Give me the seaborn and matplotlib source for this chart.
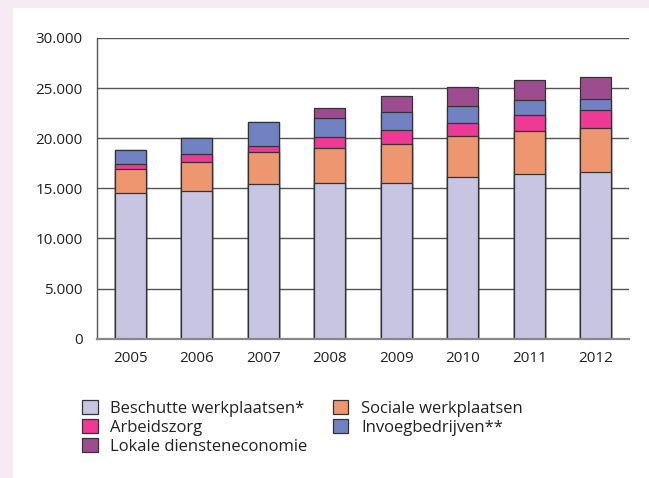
import matplotlib
matplotlib.use("Agg")
import matplotlib.pyplot as plt
import seaborn as sns
import numpy as np
import pandas as pd
from matplotlib.patches import Patch, Rectangle

sns.set_style("white")
plt.rcParams["font.family"] = ["Open Sans", "DejaVu Sans"]

# --- data ---
years = ["2005", "2006", "2007", "2008", "2009", "2010", "2011", "2012"]
beschutte = [14500, 14770, 15440, 15510, 15510, 16170, 16440, 16640]
sociale = [2400, 2900, 3160, 3490, 3950, 4060, 4290, 4390]
arbeidszorg = [530, 730, 600, 1130, 1340, 1330, 1600, 1770]
invoeg = [1370, 1600, 2400, 1930, 1800, 1640, 1470, 1100]
lokale = [0, 0, 0, 940, 1620, 1950, 1990, 2190]

series_names = ["Beschutte werkplaatsen*", "Sociale werkplaatsen", "Arbeidszorg",
                "Invoegbedrijven**", "Lokale diensteneconomie"]
series_colors = ["#c7c5e2", "#ee9670", "#ee3a94", "#7082c2", "#9d4d8f"]

y_ticks = [0, 5000, 10000, 15000, 20000, 25000, 30000]
y_ticklabels = ["0", "5.000", "10.000", "15.000", "20.000", "25.000", "30.000"]

# cumulative tops for stacking
stack = np.cumsum(np.array([beschutte, sociale, arbeidszorg, invoeg, lokale]), axis=0)

fig = plt.figure(figsize=(6.49, 4.78), dpi=100)
fig.patch.set_facecolor("#f6eaf3")
# white panel (behind everything)
fig.patches.append(Rectangle((13 / 649, 0), 1, 1 - 8 / 478, transform=fig.transFigure,
                             facecolor="white", edgecolor="none", zorder=-10))

ax = fig.add_axes([97 / 649, 1 - 338.7 / 478, 532 / 649, 300.7 / 478])
ax.set_facecolor("white")

# draw tallest layer first, then overlay lower ones
for i in range(len(series_names) - 1, -1, -1):
    df = pd.DataFrame({"jaar": years, "waarde": stack[i]})
    sns.barplot(data=df, x="jaar", y="waarde", color=series_colors[i], width=0.47,
                edgecolor="#333333", linewidth=0.9, saturation=1, ax=ax, zorder=3)

ax.set_ylim(0, 30000)
ax.set_xlim(-0.5, len(years) - 0.5)
ax.set_yticks(y_ticks)
ax.set_yticklabels(y_ticklabels)
for y in y_ticks[1:]:
    ax.axhline(y, color="#555555", linewidth=1.0, zorder=1)

ax.set_xlabel("")
ax.set_ylabel("")
for s in ["top", "right"]:
    ax.spines[s].set_visible(False)
ax.spines["left"].set_color("#555555")
ax.spines["left"].set_linewidth(1.0)
ax.spines["bottom"].set_color("#888888")
ax.spines["bottom"].set_linewidth(1.6)
ax.spines["bottom"].set_zorder(4)

ax.tick_params(axis="y", length=0, pad=10.5, labelsize=11, colors="#222222")
ax.tick_params(axis="x", which="major", length=0, pad=9, labelsize=11, colors="#222222")
# small separator ticks between categories
ax.set_xticks(np.arange(len(years)) + 0.5, minor=True)
ax.tick_params(axis="x", which="minor", direction="in", length=5, width=1, color="#555555")

handles = [Patch(facecolor=c, edgecolor="#333333", linewidth=0.9) for c in series_colors]
order = [0, 2, 4, 1, 3]
fig.legend([handles[k] for k in order], [series_names[k] for k in order],
           loc="upper left", bbox_to_anchor=(67 / 649, 1 - 385 / 478), ncol=2,
           frameon=False, fontsize=12, handlelength=0.95, handleheight=0.95,
           handletextpad=0.75, columnspacing=1.5, labelspacing=0.12,
           labelcolor="#222222")

fig.savefig("out.png", dpi=100, facecolor=fig.get_facecolor())
